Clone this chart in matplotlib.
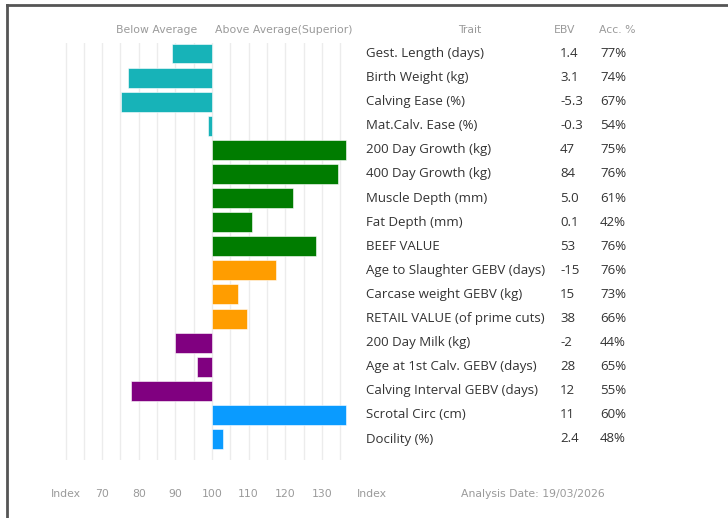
import numpy as np
import matplotlib
matplotlib.use("Agg")
import matplotlib.pyplot as plt
from matplotlib.transforms import blended_transform_factory

# datos del grafico
traits = ["Gest. Length (days)", "Birth Weight (kg)", "Calving Ease (%)",
          "Mat.Calv. Ease (%)", "200 Day Growth (kg)", "400 Day Growth (kg)",
          "Muscle Depth (mm)", "Fat Depth (mm)", "BEEF VALUE",
          "Age to Slaughter GEBV (days)", "Carcase weight GEBV (kg)",
          "RETAIL VALUE (of prime cuts)", "200 Day Milk (kg)",
          "Age at 1st Calv. GEBV (days)", "Calving Interval GEBV (days)",
          "Scrotal Circ (cm)", "Docility (%)"]
ebv = ["1.4", "3.1", "-5.3", "-0.3", "47", "84", "5.0", "0.1", "53",
       "-15", "15", "38", "-2", "28", "12", "11", "2.4"]
acc = ["77%", "74%", "67%", "54%", "75%", "76%", "61%", "42%", "76%",
       "76%", "73%", "66%", "44%", "65%", "55%", "60%", "48%"]
index_vals = [89, 77, 75, 99, 136.5, 134.5, 122, 111, 128.5,
              117.5, 107, 109.5, 90, 96, 78, 136.5, 103]
groups = ["cyan", "cyan", "cyan", "cyan", "green", "green", "green", "green", "green",
          "orange", "orange", "orange", "purple", "purple", "purple", "blue", "blue"]
ticks = [70, 80, 90, 100, 110, 120, 130]

colores = {"cyan": "#17b3b8", "green": "#007c00", "orange": "#ff9d00",
           "purple": "#800080", "blue": "#0a9bff"}

W, H = 728, 518
fig = plt.figure(figsize=(W / 100, H / 100), dpi=100)
plt.rcParams['font.family'] = ['Open Sans', 'DejaVu Sans']

# eje: 100 en x=212 px, 3.66 px por unidad
s = 3.66
x0 = 212
xmin, xmax = 58, 138
left = x0 + (xmin - 100) * s
right = x0 + (xmax - 100) * s
top, bottom = 43, 460
ax = fig.add_axes([left / W, 1 - bottom / H, (right - left) / W, (bottom - top) / H])

n = len(traits)
pitch = (439 - 53.5) / (n - 1)
ax.set_xlim(xmin, xmax)
ax.set_ylim(n - 1 + (bottom - 439) / pitch, -(53.5 - top) / pitch)
ax.axis("off")

for g in np.arange(60, 136, 5):
    ax.axvline(g, color="#ececec", lw=1, zorder=0)

y = np.arange(n)
widths = np.array(index_vals) - 100
ax.barh(y, widths, left=100, height=0.83,
        color=[colores[g] for g in groups], edgecolor="white", linewidth=0.4, zorder=2)

# textos de la tabla
tr = blended_transform_factory(fig.transFigure, ax.transData)
for i in range(n):
    ax.text(366 / W, i, traits[i], transform=tr, ha="left", va="center",
            fontsize=9.5, color="#333333")
    ax.text(560 / W, i, ebv[i], transform=tr, ha="left", va="center",
            fontsize=9.5, color="#333333")
    ax.text(600 / W, i, acc[i], transform=tr, ha="left", va="center",
            fontsize=9.5, color="#333333")

# encabezados
gris = "#9a9a9a"
hfont = dict(fontsize=7.8, color=gris, family="DejaVu Sans", ha="center", va="center")
hy = 1 - 30 / H
fig.text(157 / W, hy, "Below Average", **hfont)
fig.text(284 / W, hy, "Above Average(Superior)", **hfont)
fig.text(470 / W, hy, "Trait", **hfont)
fig.text(565 / W, hy, "EBV", **hfont)
fig.text(617 / W, hy, "Acc. %", **hfont)

# pie
fy = 1 - 494 / H
fig.text(66 / W, fy, "Index", **hfont)
for t in ticks:
    fig.text((x0 + (t - 100) * s) / W, fy, str(t), **hfont)
fig.text(372 / W, fy, "Index", **hfont)
fig.text(533 / W, fy, "Analysis Date: 19/03/2026", **hfont)

# marco superior e izquierdo
fig.add_artist(plt.Line2D([7 / W, 1], [1 - 5 / H, 1 - 5 / H], color="#555555", lw=2))
fig.add_artist(plt.Line2D([7 / W, 7 / W], [0, 1 - 5 / H], color="#555555", lw=2))

fig.savefig("out.png", dpi=100)
